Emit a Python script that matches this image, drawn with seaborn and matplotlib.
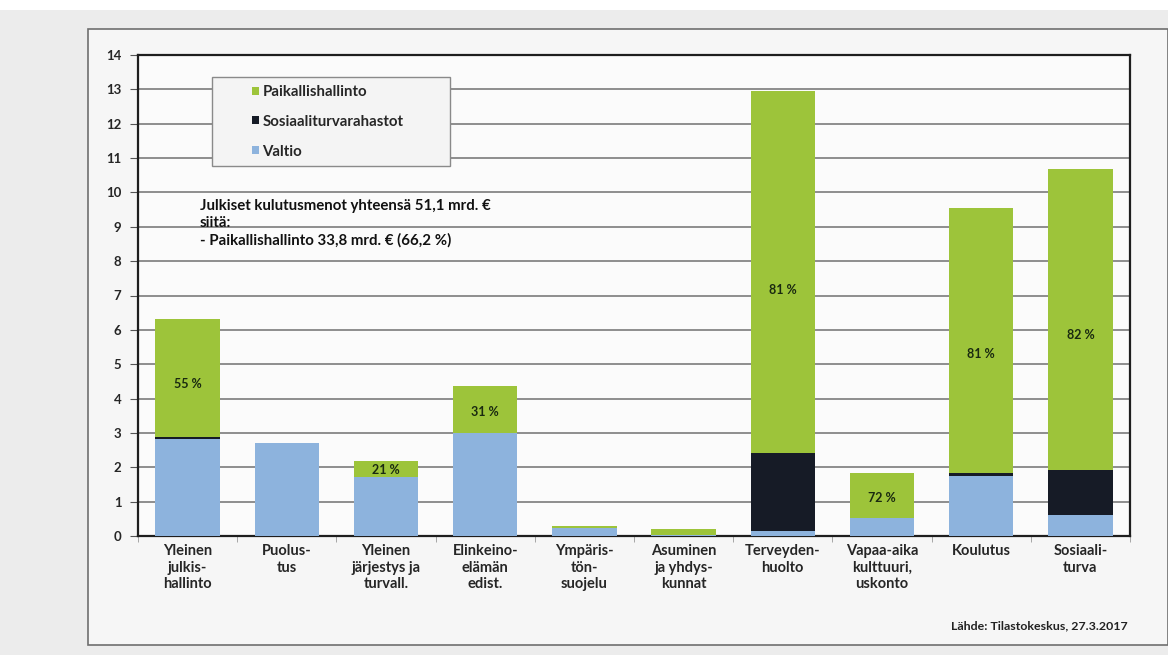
import numpy as np
import pandas as pd
import matplotlib
matplotlib.use("Agg")
import matplotlib.pyplot as plt
from matplotlib.patches import Patch, Rectangle
import seaborn as sns

# Julkiset kulutusmenot tehtävittäin, mrd. €
categories = [
    "Yleinen\njulkis-\nhallinto",
    "Puolus-\ntus",
    "Yleinen\njärjestys ja\nturvall.",
    "Elinkeino-\nelämän\nedist.",
    "Ympäris-\ntön-\nsuojelu",
    "Asuminen\nja yhdys-\nkunnat",
    "Terveyden-\nhuolto",
    "Vapaa-aika\nkulttuuri,\nuskonto",
    "Koulutus",
    "Sosiaali-\nturva",
]
valtio = [2.82, 2.70, 1.72, 3.00, 0.24, 0.02, 0.15, 0.52, 1.75, 0.60]
sosiaaliturvarahastot = [0.05, 0.00, 0.00, 0.00, 0.00, 0.00, 2.27, 0.00, 0.07, 1.32]
paikallishallinto = [3.45, 0.00, 0.46, 1.37, 0.04, 0.18, 10.53, 1.31, 7.73, 8.76]
share_labels = ["55 %", "", "21 %", "31 %", "", "", "81 %", "72 %", "81 %", "82 %"]

series_names = ["Paikallishallinto", "Sosiaaliturvarahastot", "Valtio"]
series_colors = {"Paikallishallinto": "#9dc43a",
                 "Sosiaaliturvarahastot": "#161b26",
                 "Valtio": "#8db3dd"}

note_lines = [
    "Julkiset kulutusmenot yhteensä 51,1 mrd. €",
    "siitä:",
    "- Paikallishallinto 33,8 mrd. € (66,2 %)",
]
source_text = "Lähde: Tilastokeskus, 27.3.2017"

WEIGHT = "bold"

sns.set_style("white")
plt.rcParams["font.family"] = ["Lato", "DejaVu Sans"]
plt.rcParams["font.weight"] = WEIGHT

df = pd.DataFrame({
    "kategoria": categories,
    "Valtio": valtio,
    "Sosiaaliturvarahastot": sosiaaliturvarahastot,
    "Paikallishallinto": paikallishallinto,
})
df["alku_sos"] = df["Valtio"]
df["alku_paik"] = df["Valtio"] + df["Sosiaaliturvarahastot"]

fig = plt.figure(figsize=(11.68, 6.55), dpi=100)
fig.patch.set_facecolor("#ececec")

# page panel with thin frame (kept behind the axes)
bg_ax = fig.add_axes([0, 0, 1, 1], zorder=-5)
bg_ax.set_axis_off()
bg_ax.set_xlim(0, 1)
bg_ax.set_ylim(0, 1)
bg_ax.add_patch(Rectangle((0, 0.985), 1, 0.015, facecolor="white", edgecolor="none"))
bg_ax.add_patch(Rectangle((88 / 1168, 1 - 645 / 655), (1168 - 88) / 1168, (645 - 29) / 655,
                          facecolor="#f6f6f6", edgecolor="#6f6f6f", linewidth=1.2))

ax = fig.add_axes([138 / 1168, 1 - 536 / 655, (1130 - 138) / 1168, (536 - 55) / 655], zorder=1)
ax.set_facecolor("#fbfbfb")

common = dict(data=df, x="kategoria", order=categories, width=0.65,
              linewidth=0, saturation=1, ax=ax, zorder=3)
sns.barplot(y="Valtio", color=series_colors["Valtio"], **common)
sns.barplot(y="Sosiaaliturvarahastot", bottom=df["alku_sos"],
            color=series_colors["Sosiaaliturvarahastot"], **common)
sns.barplot(y="Paikallishallinto", bottom=df["alku_paik"],
            color=series_colors["Paikallishallinto"], **common)

# share of local government inside the green segment
for i, lab in enumerate(share_labels):
    if lab:
        y = df["alku_paik"][i] + df["Paikallishallinto"][i] * 0.45
        ax.text(i, y, lab, ha="center", va="center", fontsize=9,
                fontweight=WEIGHT, color="#1a2a10", zorder=4)

ax.set_ylim(0, 14)
ax.set_xlim(-0.5, len(categories) - 0.5)
ax.set_yticks(range(0, 15))
ax.yaxis.grid(True, color="#707070", linewidth=1.1, zorder=0)
ax.set_axisbelow(True)
ax.set_xlabel("")
ax.set_ylabel("")
ax.tick_params(axis="y", length=6, width=0.8, color="#555555", labelsize=9.5, pad=6, left=True)
ax.tick_params(axis="x", length=0, labelsize=10.5, pad=6)
for t in ax.get_yticklabels() + ax.get_xticklabels():
    t.set_fontweight(WEIGHT)
ax.set_xticks(np.arange(-0.5, len(categories), 1), minor=True)
ax.tick_params(axis="x", which="minor", length=4, color="#999999", direction="out", bottom=True)
for side in ["left", "bottom", "top", "right"]:
    ax.spines[side].set_visible(True)
    ax.spines[side].set_color("#1e1e1e")
    ax.spines[side].set_linewidth(1.6)

# legend box
ax.add_patch(Rectangle(((212 - 138) / 992, (536 - 166) / 481),
                       (450 - 212) / 992, (166 - 77) / 481, transform=ax.transAxes,
                       facecolor="#f4f4f4", edgecolor="#8a8a8a", linewidth=1.0, zorder=5))
handles = [Patch(facecolor=series_colors[n], edgecolor="none") for n in series_names]
leg = ax.legend(handles, series_names, loc="upper left",
                bbox_to_anchor=((252 - 138) / 992, (536 - 85) / 481),
                frameon=False, fontsize=10.8, handlelength=0.45, handleheight=0.45,
                handletextpad=0.25, labelspacing=1.05, borderaxespad=0, borderpad=0)
leg.set_zorder(6)
for t in leg.get_texts():
    t.set_fontweight(WEIGHT)

# overall totals note
for k, line in enumerate(note_lines):
    ax.text((200 - 138) / 992, (536 - 206 - 17 * k) / 481, line, transform=ax.transAxes,
            ha="left", va="center", fontsize=10.8, fontweight=WEIGHT, color="#111111", zorder=6)

fig.text(1128 / 1168, 1 - 626 / 655, source_text, ha="right", va="center",
         fontsize=8.9, fontweight=WEIGHT, color="#222222")

fig.savefig("out.png", dpi=100, facecolor=fig.get_facecolor())
